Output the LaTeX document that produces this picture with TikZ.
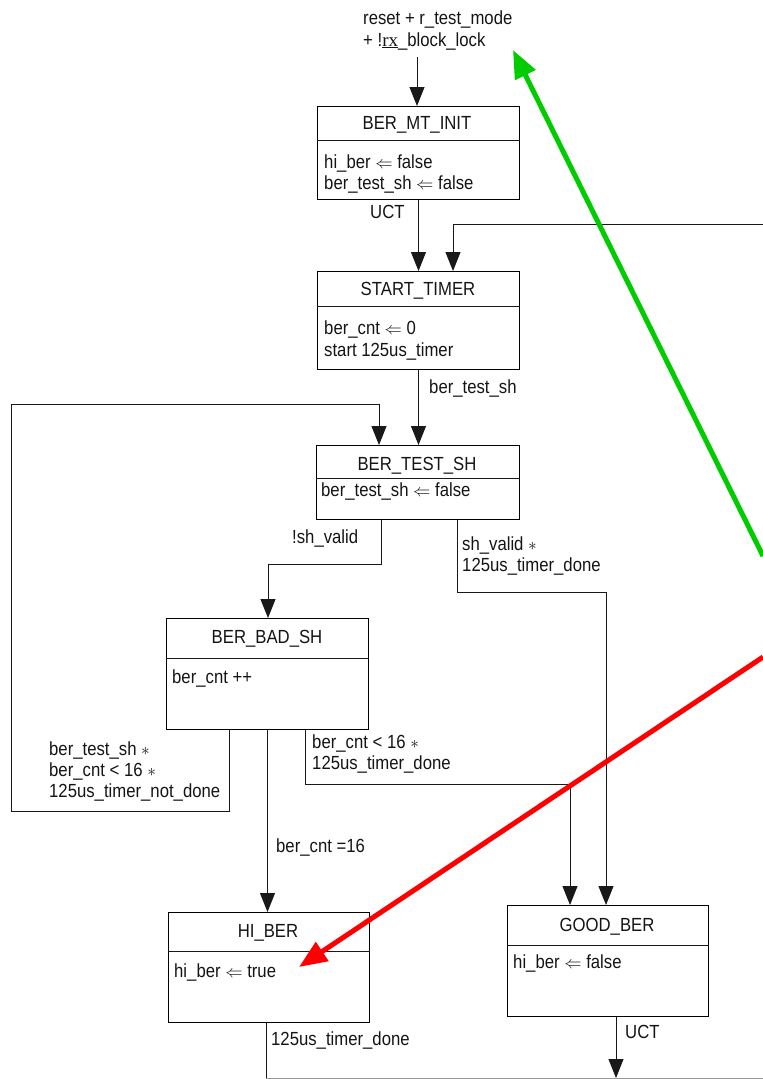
\documentclass[tikz,border=0pt]{standalone}
\usepackage{fontspec}
\setmainfont{Liberation Sans}[FakeStretch=0.88]
\newfontfamily\seriffont{Liberation Serif}
\usetikzlibrary{arrows.meta}
\definecolor{hlgreen}{RGB}{0,204,0}
\definecolor{hlred}{RGB}{255,0,0}
\tikzset{
 lbl/.style={anchor=base west, inner sep=0pt, text=black!92, font=\fontsize{19}{22}\selectfont},
 ttl/.style={anchor=base, inner sep=0pt, text=black!92, font=\fontsize{19}{22}\selectfont},
 statebox/.style={draw=black, line width=1pt, anchor=north west, inner sep=0pt},
 conn/.style={draw=black!90, line width=1pt},
 arr/.style={conn, -{Triangle[length=19pt,width=15pt]}},
 hl/.style={line width=5pt, -{Triangle[length=28pt,width=22pt]}},
}
\newcommand{\la}{$\Leftarrow$}
\begin{document}
\begin{tikzpicture}[x=1pt,y=-1pt]
\useasboundingbox (0,0) rectangle (763,1079);

% entry condition
\node[lbl] (cond1) at (363,24) {reset + r\_test\_mode};
\node[lbl] (cond2) at (363,46) {+ !\underline{\seriffont rx}\_block\_lock};
\coordinate (e0) at (417,57);

% state boxes
\node[statebox, minimum width=202pt, minimum height=93pt] (init) at (317,106) {};
\node[statebox, minimum width=202pt, minimum height=98pt] (start) at (317,271) {};
\node[statebox, minimum width=203pt, minimum height=74pt] (test) at (316,445) {};
\node[statebox, minimum width=202pt, minimum height=111pt] (bad) at (166,618) {};
\node[statebox, minimum width=201pt, minimum height=110pt] (hi) at (168,912) {};
\node[statebox, minimum width=201pt, minimum height=111pt] (good) at (507,905) {};

% dividers
\draw[conn] ([yshift=-34pt]init.north west) -- ([yshift=-34pt]init.north east);
\draw[conn] ([yshift=-35pt]start.north west) -- ([yshift=-35pt]start.north east);
\draw[conn] ([yshift=-33pt]test.north west) -- ([yshift=-33pt]test.north east);
\draw[conn] ([yshift=-40pt]bad.north west) -- ([yshift=-40pt]bad.north east);
\draw[conn] ([yshift=-39pt]hi.north west) -- ([yshift=-39pt]hi.north east);
\draw[conn] ([yshift=-40pt]good.north west) -- ([yshift=-40pt]good.north east);

% titles
\node[ttl] (tinit) at (417,129) {BER\_MT\_INIT};
\node[ttl] (tstart) at (418,295) {START\_TIMER};
\node[ttl] (ttest) at (417,470) {BER\_TEST\_SH};
\node[ttl] (tbad) at (267,643) {BER\_BAD\_SH};
\node[ttl] (thi) at (268,937) {HI\_BER};
\node[ttl] (tgood) at (607,931) {GOOD\_BER};

% bodies
\node[lbl] (binit1) at (324,168) {hi\_ber \la{} false};
\node[lbl] (binit2) at (324,189) {ber\_test\_sh \la{} false};
\node[lbl] (bstart1) at (324,334) {ber\_cnt \la{} 0};
\node[lbl] (bstart2) at (324,356) {start 125us\_timer};
\node[lbl] (btest) at (321,496) {ber\_test\_sh \la{} false};
\node[lbl] (bbad) at (172,683) {ber\_cnt ++};
\node[lbl] (bhi) at (174,977) {hi\_ber \la{} true};
\node[lbl] (bgood) at (513,968) {hi\_ber \la{} false};

% transition labels
\node[lbl] (uct1) at (370,218) {UCT};
\node[lbl] (lts) at (429,393) {ber\_test\_sh};
\node[lbl] (lnsv) at (292,543) {!sh\_valid};
\node[lbl] (lsv1) at (462,550) {sh\_valid $\ast$};
\node[lbl] (lsv2) at (462,571) {125us\_timer\_done};
\node[lbl] (lb1) at (49,755) {ber\_test\_sh $\ast$};
\node[lbl] (lb2) at (49,776) {ber\_cnt < 16 $\ast$};
\node[lbl] (lb3) at (49,797) {125us\_timer\_not\_done};
\node[lbl] (lr1) at (312,748) {ber\_cnt < 16 $\ast$};
\node[lbl] (lr2) at (312,769) {125us\_timer\_done};
\node[lbl] (l16) at (276,852) {ber\_cnt =16};
\node[lbl] (lhid) at (271,1045) {125us\_timer\_done};
\node[lbl] (uct2) at (625,1038) {UCT};

% connectors
\coordinate (r0) at (763,224);
\coordinate (lpb) at (11,811);
\coordinate (lpt) at (11,404);
\coordinate (c1) at (268,564);
\coordinate (c2) at (606,592);
\coordinate (c3) at (570,784);
\coordinate (c4) at (266,1078);
\coordinate (c5) at (763,1078);
\coordinate (c6) at (616,1078);

\draw[arr] (e0) -- (e0 |- init.north);
\draw[arr] (init.south) -- (init.south |- start.north);
\draw[arr] (r0) -| ([xshift=136pt]start.north west);
\draw[arr] (start.south) -- (start.south |- test.north);
\draw[arr] ([xshift=63pt]bad.south west) |- (lpb) -- (lpt) -| ([xshift=63pt]test.north west);
\draw[arr] ([xshift=65pt]test.south west) |- (c1) -- (c1 |- bad.north);
\draw[arr] ([xshift=141pt]test.south west) |- (c2) -- (c2 |- good.north);
\draw[arr] (bad.south) -- (bad.south |- hi.north);
\draw[arr] ([xshift=139pt]bad.south west) |- (c3) -- (c3 |- good.north);
\draw[conn] ([xshift=98pt]hi.south west) -- (c4);
\draw[draw=black!40, line width=0.9pt] (c4) -- (c5);
\draw[arr] ([xshift=109pt]good.south west) -- (c6);

% highlight arrows
\coordinate (g0) at (763,556);
\coordinate (g1) at (513,50);
\coordinate (h0) at (763,657);
\coordinate (h1) at (299,967);
\draw[hl, draw=hlgreen, fill=hlgreen] (g0) -- (g1);
\draw[hl, draw=hlred, fill=hlred] (h0) -- (h1);
\end{tikzpicture}
\end{document}
